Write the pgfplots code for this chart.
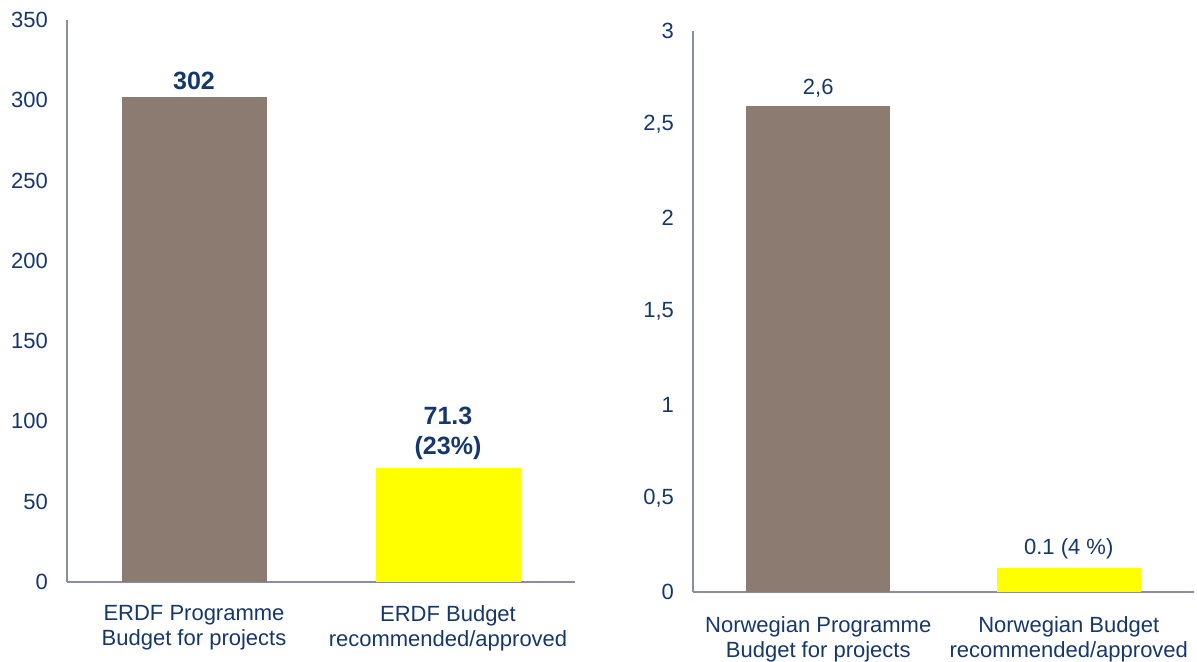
\documentclass[border=0pt]{standalone}
\usepackage{pgfplots}
\pgfplotsset{compat=1.18}
\usepackage{fontspec}
\setmainfont{Liberation Sans}

\definecolor{navy}{RGB}{22,55,110}
\definecolor{barbrown}{RGB}{139,123,112}
\definecolor{baryellow}{RGB}{255,255,0}
\definecolor{axisgray}{RGB}{138,142,164}

\pgfplotsset{
  budget/.style={
    scale only axis,
    ybar,
    axis x line=bottom, axis y line=left,
    axis line style={-, axisgray, line width=1pt},
    major tick length=0pt,
    xmin=-0.5, xmax=1.5, ymin=0,
    xtick={0,1},
    enlargelimits=false,
    tick label style={font=\fontsize{11}{12.5}\selectfont, text=navy},
    /pgf/number format/assume math mode=true,
    yticklabel style={xshift=-6pt},
    xticklabel style={align=center, inner sep=0pt, yshift=-11.5pt},
    every node near coord/.append style={inner sep=0pt, yshift=4pt, align=center, text=navy},
  },
}

\begin{document}
\begin{tikzpicture}
\useasboundingbox (0,0) rectangle (598.5pt,331pt);

% ERDF
\begin{axis}[budget,
  at={(33.5pt,40pt)}, anchor=south west,
  width=254pt, height=281pt,
  ymax=350, ytick={0,50,...,350},
  xticklabels={{ERDF Programme\\Budget for projects},{ERDF Budget\\recommended/approved}},
  every node near coord/.append style={font=\fontsize{12.5}{15}\selectfont\bfseries, yshift=-0.5pt},
]
\addplot[fill=barbrown, draw=none, bar width=72.5pt, bar shift=0pt,
  nodes near coords={302}] coordinates {(0,302)};
\addplot[fill=baryellow, draw=none, bar width=72.5pt, bar shift=0pt,
  nodes near coords={71.3\\(23\%)}] coordinates {(1,71.3)};
\end{axis}

% Norwegian
\begin{axis}[budget,
  at={(346.5pt,35pt)}, anchor=south west,
  width=250.5pt, height=280.5pt,
  ymax=3, ytick={0,0.5,...,3},
  /pgf/number format/use comma,
  xticklabels={{Norwegian Programme\\Budget for projects},{Norwegian Budget\\recommended/approved}},
  xticklabel style={yshift=-0.5pt},
  every node near coord/.append style={font=\fontsize{11}{13.5}\selectfont},
]
\addplot[fill=barbrown, draw=none, bar width=72pt, bar shift=0pt,
  nodes near coords={2,6}] coordinates {(0,2.6)};
\addplot[fill=baryellow, draw=none, bar width=72pt, bar shift=0pt,
  nodes near coords={0.1 (4 \%)}] coordinates {(1,0.13)};
\end{axis}
\end{tikzpicture}
\end{document}
